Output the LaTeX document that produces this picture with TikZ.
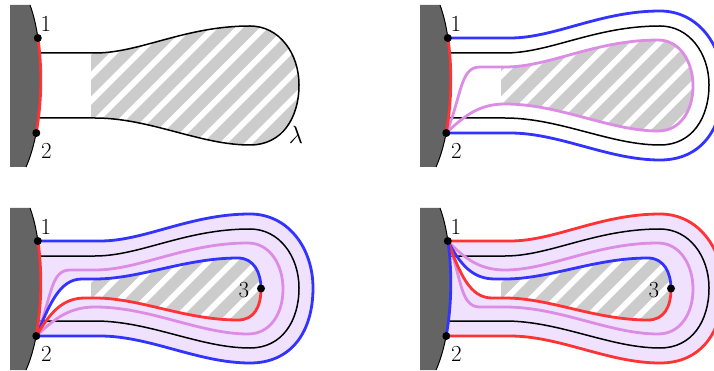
\documentclass[tikz,border=0pt]{standalone}
\definecolor{cblue}{RGB}{51,51,255}
\definecolor{cred}{RGB}{255,51,51}
\definecolor{cpink}{RGB}{220,140,228}
\definecolor{clav}{RGB}{240,226,255}
\definecolor{cdark}{RGB}{100,100,100}
\definecolor{chatch}{RGB}{204,204,204}
\newcommand\stripefill{%
  \fill[chatch] (85,0) rectangle (320,170);
  \foreach \k in {-6,...,12} {\draw[white, line width=5.9pt] ({\k*25+21.7},170) -- ++(170,-170);}}
\newcommand\wallpart[1]{%
  \fill[cdark] (10,5) -- (30,5) .. controls (45,45) and (45,125) .. (26,167) -- (10,167) -- cycle;
  \draw[line width=1pt] (30,5) .. controls (45,45) and (45,125) .. (26,167);
  \begin{scope}
    \clip (15,38) rectangle (60,133);
    \draw[#1, line width=2.8pt] (30,5) .. controls (45,45) and (45,125) .. (26,167);
  \end{scope}}
\begin{document}
\begin{tikzpicture}[x=1pt,y=-1pt,
  thinb/.style={line width=1.5pt, black},
  col/.style={line width=2.8pt},
  dot/.style={circle, fill=black, inner sep=0pt, minimum size=8pt},
  lbl/.style={font=\fontsize{23}{27}\selectfont, inner sep=0pt},
  outerloop/.style={insert path={.. controls (145,38) and (190,11) .. (250,11) .. controls (288,11) and (313,45) .. (313,85) .. controls (313,128) and (292,160) .. (250,160) .. controls (198,160) and (150,133) .. (100,133)}},
  baseloop/.style={insert path={.. controls (140,53) and (185,26) .. (250,26) .. controls (279,26) and (299,53) .. (299,85) .. controls (299,118) and (282,145) .. (250,145) .. controls (200,145) and (150,118) .. (95,118)}},
  pinkloop/.style={insert path={.. controls (140,67) and (185,40) .. (248,40) .. controls (270,40) and (283,62) .. (283,86) .. controls (283,111) and (270,131) .. (248,131) .. controls (200,131) and (150,104) .. (95,104)}},
  innertop/.style={insert path={.. controls (140,76) and (185,55) .. (238,55) .. controls (254,55) and (261,70) .. (261,85.5)}},
  innerbot/.style={insert path={.. controls (261,104) and (254,117) .. (238,117) .. controls (185,117) and (140,95) .. (95,95)}}
]
\useasboundingbox (0,0) rectangle (714,371);

% ---------- panel 1 ----------
\begin{scope}
  \coordinate (a1) at (37.8,38);
  \coordinate (a2) at (36.3,133);
  \begin{scope}
    \clip (91,53) -- (95,53) [baseloop] -- (91,118) -- cycle;
    \stripefill
  \end{scope}
  \draw[thinb] (39.5,53) -- (95,53) [baseloop] -- (39.5,118);
  \wallpart{cred}
  \node[dot] (a1d) at (a1) {};
  \node[dot] (a2d) at (a2) {};
  \node[lbl] (la1) at (46,24) {1};
  \node[lbl] (la2) at (46.5,151) {2};
  \node[lbl] (lam) at (296,135) {$\lambda$};
\end{scope}

% ---------- panel 2 ----------
\begin{scope}[shift={(410,0)}]
  \coordinate (b1) at (37.8,38);
  \coordinate (b2) at (36.3,133);
  \begin{scope}
    \clip (91,67) -- (95,67) [pinkloop] -- (91,104) -- cycle;
    \stripefill
  \end{scope}
  \draw[col, cblue] (b1) -- (100,38) [outerloop] -- (b2);
  \draw[thinb] (39.5,53) -- (95,53) [baseloop] -- (39.5,118);
  \draw[col, cpink] (b2) .. controls (52,95) and (50,67) .. (70,67) -- (95,67) [pinkloop] .. controls (70,104) and (55,115) .. (b2);
  \wallpart{cred}
  \node[dot] (b1d) at (b1) {};
  \node[dot] (b2d) at (b2) {};
  \node[lbl] (lb1) at (46,24) {1};
  \node[lbl] (lb2) at (46.5,151) {2};
\end{scope}

% ---------- panel 3 ----------
\begin{scope}[shift={(0,203)}]
  \coordinate (c1) at (37.8,38);
  \coordinate (c2) at (36.3,133);
  \coordinate (c3) at (261,85.5);
  \fill[clav] (c1) -- (100,38) [outerloop] -- (c2) -- (15,85) -- cycle;
  \fill[white] (c2) .. controls (50,100) and (60,76) .. (82,76) -- (95,76) [innertop] [innerbot] -- (85,95) .. controls (62,95) and (50,110) .. (c2) -- cycle;
  \begin{scope}
    \clip (91,76) -- (95,76) [innertop] [innerbot] -- (91,95) -- cycle;
    \stripefill
  \end{scope}
  \draw[col, cblue] (c1) -- (100,38) [outerloop] -- (c2);
  \draw[thinb] (39.5,53) -- (95,53) [baseloop] -- (39.5,118);
  \draw[col, cpink] (c2) .. controls (52,95) and (50,67) .. (70,67) -- (95,67) [pinkloop] .. controls (70,104) and (55,115) .. (c2);
  \draw[col, cblue] (c2) .. controls (50,100) and (60,76) .. (82,76) -- (95,76) [innertop];
  \draw[col, cred] (c3) [innerbot] -- (85,95) .. controls (62,95) and (50,110) .. (c2);
  \wallpart{cred}
  \node[dot] (c1d) at (c1) {};
  \node[dot] (c2d) at (c2) {};
  \node[dot] (c3d) at (c3) {};
  \node[lbl] (lc1) at (46,24) {1};
  \node[lbl] (lc2) at (46.5,151) {2};
  \node[lbl] (lc3) at (244,87) {3};
\end{scope}

% ---------- panel 4 ----------
\begin{scope}[shift={(410,203)}]
  \coordinate (d1) at (37.8,38);
  \coordinate (d2) at (36.3,133);
  \coordinate (d3) at (261,85.5);
  \fill[clav] (d1) -- (100,38) [outerloop] -- (d2) -- (15,85) -- cycle;
  \fill[white] (d1) .. controls (50,61) and (62,76) .. (85,76) -- (95,76) [innertop] [innerbot] -- (82,95) .. controls (60,95) and (50,71) .. (d1) -- cycle;
  \begin{scope}
    \clip (91,76) -- (95,76) [innertop] [innerbot] -- (91,95) -- cycle;
    \stripefill
  \end{scope}
  \draw[col, cred] (d1) -- (100,38) [outerloop] -- (d2);
  \draw[thinb] (39.5,53) -- (95,53) [baseloop] -- (39.5,118);
  \draw[col, cpink] (d1) .. controls (55,56) and (70,67) .. (95,67) [pinkloop] -- (70,104) .. controls (50,104) and (52,76) .. (d1);
  \draw[col, cblue] (d1) .. controls (50,61) and (62,76) .. (85,76) -- (95,76) [innertop];
  \draw[col, cred] (d3) [innerbot] -- (82,95) .. controls (60,95) and (50,71) .. (d1);
  \wallpart{cblue}
  \node[dot] (d1d) at (d1) {};
  \node[dot] (d2d) at (d2) {};
  \node[dot] (d3d) at (d3) {};
  \node[lbl] (ld1) at (46,24) {1};
  \node[lbl] (ld2) at (46.5,151) {2};
  \node[lbl] (ld3) at (244,87) {3};
\end{scope}
\end{tikzpicture}
\end{document}
